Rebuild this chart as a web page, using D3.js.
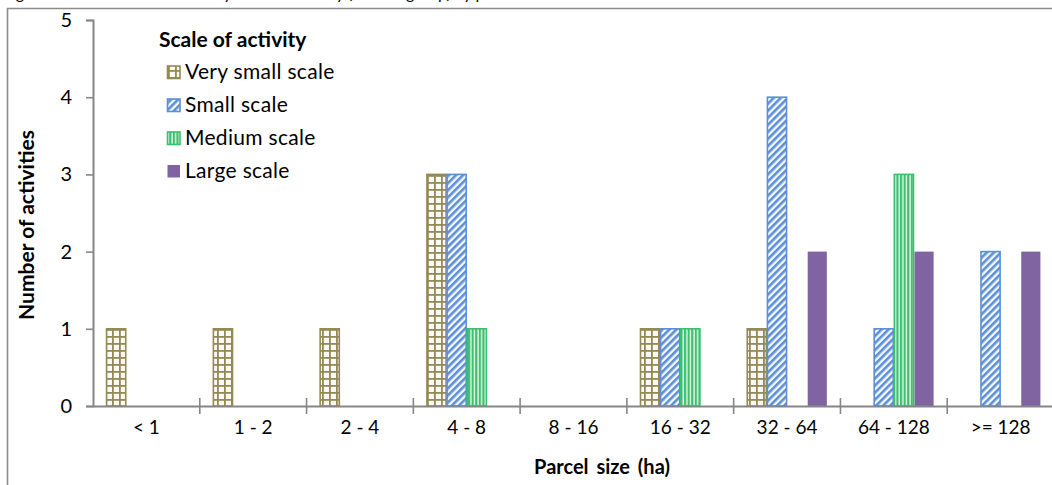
<!DOCTYPE html>
<html><head><meta charset="utf-8">
<script src="https://cdn.jsdelivr.net/npm/d3@7"></script>
<style>
html,body{margin:0;padding:0;background:#fff;}
svg{display:block;font-family:Lato,"Open Sans",sans-serif;}
</style></head>
<body><svg id="chart" width="1052" height="485"></svg>
<script>
const categories = ["< 1","1 - 2","2 - 4","4 - 8","8 - 16","16 - 32","32 - 64","64 - 128",">= 128"];
const seriesNames = ["Very small scale","Small scale","Medium scale","Large scale"];
const verySmall = [1,1,1,3,0,1,1,0,0];
const small     = [0,0,0,3,0,1,4,1,2];
const medium    = [0,0,0,1,0,1,0,3,0];
const large     = [0,0,0,0,0,0,2,2,2];
const yTicks = [0,1,2,3,4,5];
const legendTitle = "Scale of activity";
const xTitle = "Parcel size (ha)";
const yTitle = "Number of activities";
const figTitle = "Figure 6: Number of activities by scale of activity (in each group) by parcel size";

const seriesValues = [verySmall, small, medium, large];
const svg = d3.select("#chart");
const defs = svg.append("defs");

// patterns
const pGrid = defs.append("pattern").attr("id","pGrid").attr("patternUnits","userSpaceOnUse").attr("width",7).attr("height",7);
pGrid.append("rect").attr("width",7).attr("height",7).attr("fill","#fbfaf6");
pGrid.append("rect").attr("x",0).attr("y",0).attr("width",7).attr("height",1.8).attr("fill","#948a54");
pGrid.append("rect").attr("x",0).attr("y",0).attr("width",1.8).attr("height",7).attr("fill","#948a54");

const pDiag = defs.append("pattern").attr("id","pDiag").attr("patternUnits","userSpaceOnUse").attr("width",5).attr("height",5).attr("patternTransform","rotate(45)");
pDiag.append("rect").attr("width",5).attr("height",5).attr("fill","#f4f8fd");
pDiag.append("rect").attr("x",0).attr("y",0).attr("width",2.6).attr("height",5).attr("fill","#5b8fd6");

const pVert = defs.append("pattern").attr("id","pVert").attr("patternUnits","userSpaceOnUse").attr("width",3.6).attr("height",4);
pVert.append("rect").attr("width",3.6).attr("height",4).attr("fill","#e9f8ee");
pVert.append("rect").attr("x",0).attr("y",0).attr("width",2.2).attr("height",4).attr("fill","#3cbf6e");

const fills = ["url(#pGrid)","url(#pDiag)","url(#pVert)","#8064a2"];
const strokes = ["#948a54","#5b8fd6","#3cbf6e","#8064a2"];

// outer chart border (partially visible)
svg.append("path").attr("d","M7.5,485 L7.5,8.5 L1052,8.5").attr("fill","none").attr("stroke","#8c8c8c").attr("stroke-width",1.6);

// cut-off figure title above
svg.append("text").attr("x",3).attr("y",-1).attr("font-family","Lato,sans-serif").attr("font-size",16).attr("fill","#000").text(figTitle);

const pLeft = 93, pRight = 1054, pTop = 20, pBottom = 406;
const x = d3.scaleBand().domain(categories).range([pLeft,pRight]).paddingInner(0).paddingOuter(0);
const inner = d3.scaleBand().domain(d3.range(4)).range([0, x.bandwidth()]).paddingOuter(0.65).paddingInner(0);
const y = d3.scaleLinear().domain([0,5]).range([pBottom,pTop]);

// bars
seriesValues.forEach((vals,si)=>{
  svg.append("g").selectAll("rect").data(vals.map((v,i)=>({v,c:categories[i]})).filter(d=>d.v>0))
    .join("rect")
    .attr("x",d=>x(d.c)+inner(si)+0.5)
    .attr("width",inner.bandwidth()-1)
    .attr("y",d=>y(d.v))
    .attr("height",d=>pBottom-y(d.v))
    .attr("fill",fills[si])
    .attr("stroke",strokes[si])
    .attr("stroke-width",si===3?0:1.6);
});

// y axis
const yAxis = svg.append("g").attr("transform",`translate(${pLeft},0)`)
  .call(d3.axisLeft(y).tickValues(yTicks).tickSize(7).tickPadding(14).tickFormat(d3.format("d")));
yAxis.select(".domain").attr("stroke","#868686").attr("stroke-width",2);
yAxis.selectAll(".tick line").attr("stroke","#868686").attr("stroke-width",1.6);
yAxis.selectAll(".tick text").attr("font-size",20).attr("fill","#000").attr("font-family","Lato,sans-serif");

// x axis
const xAxis = svg.append("g").attr("transform",`translate(0,${pBottom})`)
  .call(d3.axisBottom(x).tickSize(0).tickPadding(15));
xAxis.select(".domain").attr("stroke","#868686").attr("stroke-width",2);
xAxis.selectAll(".tick text").attr("font-size",19).attr("fill","#000").attr("font-family","Lato,sans-serif");
// category boundary ticks
svg.append("g").selectAll("line").data(categories.slice(1)).join("line")
  .attr("x1",d=>x(d)).attr("x2",d=>x(d)).attr("y1",pBottom-8).attr("y2",pBottom+8)
  .attr("stroke","#868686").attr("stroke-width",1.6);

// axis titles
svg.append("text").attr("x",602).attr("y",474).attr("text-anchor","middle")
  .attr("font-weight","bold").attr("font-size",20).attr("word-spacing",3).attr("font-family","Lato,sans-serif").text(xTitle);
svg.append("text").attr("transform",`translate(34,225) rotate(-90)`).attr("text-anchor","middle")
  .attr("font-weight","bold").attr("font-size",21).attr("font-family","Lato,sans-serif").text(yTitle);

// legend
const lg = svg.append("g");
lg.append("text").attr("x",159).attr("y",47).attr("font-weight","bold").attr("font-size",21).attr("font-family","Lato,sans-serif").text(legendTitle);
seriesNames.forEach((n,i)=>{
  const cy = 72 + i*33;
  lg.append("rect").attr("x",167.5).attr("y",cy-6).attr("width",12.5).attr("height",12.5)
    .attr("fill",fills[i]).attr("stroke",strokes[i]).attr("stroke-width",i===3?0:1.6);
  lg.append("text").attr("x",185).attr("y",cy).attr("dy","0.35em").attr("font-size",21).attr("letter-spacing",0.3).attr("font-family","Lato,sans-serif").text(n);
});
</script></body></html>
